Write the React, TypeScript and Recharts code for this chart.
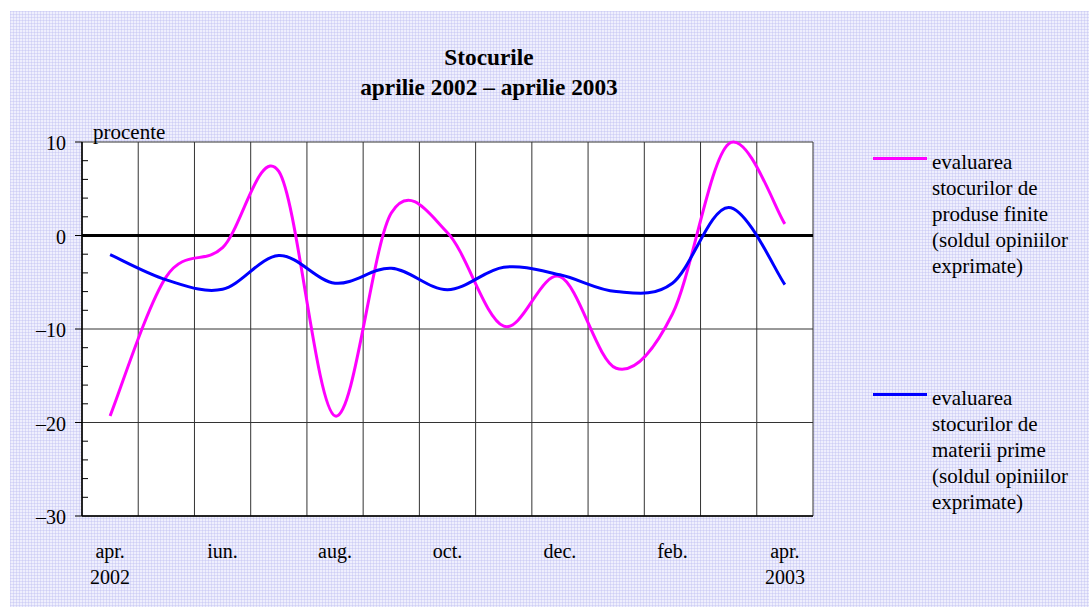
import React from 'react';
import { LineChart, Line, XAxis, YAxis, CartesianGrid, ReferenceLine, Legend } from 'recharts';

const FONT = "'Liberation Serif', 'Times New Roman', serif";

const MONTHS = ['apr.', 'mai', 'iun.', 'iul.', 'aug.', 'sep.', 'oct.', 'nov.', 'dec.', 'ian.', 'feb.', 'mar.', 'apr.'];
const YEARS = ['2002', '', '', '', '', '', '', '', '', '', '', '', '2003'];
const PRODUSE_FINITE = [-19.3, -4.4, -1.3, 6.85, -19.3, 2.4, 0.3, -9.7, -4.4, -14.2, -8.4, 9.8, 1.25];
const MATERII_PRIME = [-2.05, -4.75, -5.75, -2.15, -5.1, -3.5, -5.8, -3.4, -4.2, -6.0, -5.1, 3.0, -5.25];
const X_LABEL_INDEXES = [0, 2, 4, 6, 8, 10, 12];
const Y_TICKS = [-30, -28, -26, -24, -22, -20, -18, -16, -14, -12, -10, -8, -6, -4, -2, 0, 2, 4, 6, 8, 10];
const Y_MAJOR = [-30, -20, -10, 0, 10];
const SERIES_NAMES = [
  'evaluarea\nstocurilor de\nproduse finite\n(soldul opiniilor\nexprimate)',
  'evaluarea\nstocurilor de\nmaterii prime\n(soldul opiniilor\nexprimate)',
];
const TITLE_LINES = ['Stocurile', 'aprilie 2002 \u2013 aprilie 2003'];
const Y_UNIT = 'procente';

const data = MONTHS.map((m, i) => ({
  i,
  month: m,
  year: YEARS[i],
  produse: PRODUSE_FINITE[i],
  materii: MATERII_PRIME[i],
}));
const GRID_X = [-0.5, ...MONTHS.map((_, i) => i + 0.5)];

// Excel-like smoothed line (Catmull-Rom as cubic Bezier)
const excelSmooth = (context: any) => {
  let pts: [number, number][] = [];
  return {
    areaStart() {},
    areaEnd() {},
    lineStart() {
      pts = [];
    },
    point(x: number, y: number) {
      pts.push([+x, +y]);
    },
    lineEnd() {
      const n = pts.length;
      if (!n) return;
      context.moveTo(pts[0][0], pts[0][1]);
      for (let k = 0; k < n - 1; k++) {
        const p0 = pts[k - 1] || pts[k];
        const p1 = pts[k];
        const p2 = pts[k + 1];
        const p3 = pts[k + 2] || pts[k + 1];
        context.bezierCurveTo(
          p1[0] + (p2[0] - p0[0]) / 6,
          p1[1] + (p2[1] - p0[1]) / 6,
          p2[0] - (p3[0] - p1[0]) / 6,
          p2[1] - (p3[1] - p1[1]) / 6,
          p2[0],
          p2[1]
        );
      }
    },
  };
};

const fmtY = (v: number) => (v < 0 ? '\u2013' + Math.abs(v) : String(v));

const YTick = (props: any) => {
  const { x, y, payload } = props;
  const v = payload.value;
  if (Y_MAJOR.includes(v)) {
    return (
      <g>
        <line x1={x - 7} x2={x} y1={y} y2={y} stroke="#000" strokeWidth={1} />
        <text x={x - 16} y={y + 8} textAnchor="end" fontFamily={FONT} fontSize={20} fill="#000">
          {fmtY(v)}
        </text>
      </g>
    );
  }
  return <line x1={x} x2={x + 6} y1={y} y2={y} stroke="#000" strokeWidth={1} />;
};

const XTick = (props: any) => {
  const { x, y, payload } = props;
  const idx = payload.value;
  return (
    <g>
      <text x={x} y={y + 42} textAnchor="middle" fontFamily={FONT} fontSize={20} fill="#000">
        {MONTHS[idx]}
      </text>
      {YEARS[idx] ? (
        <text x={x} y={y + 68} textAnchor="middle" fontFamily={FONT} fontSize={20} fill="#000">
          {YEARS[idx]}
        </text>
      ) : null}
    </g>
  );
};

const renderUnit = (props: any) => {
  const vb = props.viewBox || { x: 0, y: 131, width: 72 };
  return (
    <text x={vb.x + vb.width + 11} y={vb.y - 3} fontFamily={FONT} fontSize={21} fill="#000">
      {Y_UNIT}
    </text>
  );
};

const renderLegend = (props: any) => {
  const entries = [...(props.payload || [])].sort(
    (a: any, b: any) => SERIES_NAMES.indexOf(a.value) - SERIES_NAMES.indexOf(b.value)
  );
  return (
    <div style={{ fontFamily: FONT, fontSize: 21, lineHeight: '26px', color: '#000' }}>
      {entries.map((entry: any, idx: number) => (
        <div
          key={idx}
          style={{ display: 'flex', alignItems: 'flex-start', marginTop: idx === 0 ? 0 : 106 }}
        >
          <div
            style={{
              width: 54,
              height: 0,
              borderTop: `3px solid ${entry.color}`,
              marginTop: 8,
              marginRight: 5,
              flex: 'none',
            }}
          />
          <div style={{ whiteSpace: 'pre-line' }}>{entry.value}</div>
        </div>
      ))}
    </div>
  );
};

export default function App() {
  return (
    <div
      style={{
        position: 'absolute',
        left: 10,
        top: 11,
        width: 1079,
        height: 596,
        backgroundColor: '#efeffd',
        backgroundImage:
          'linear-gradient(90deg, rgba(195,195,242,0.45) 1px, transparent 1px), linear-gradient(rgba(195,195,242,0.45) 1px, transparent 1px)',
        backgroundSize: '3px 3px',
        overflow: 'hidden',
      }}
    >
      <div
        style={{
          position: 'absolute',
          left: 0,
          top: 31,
          width: 958,
          textAlign: 'center',
          fontFamily: FONT,
          fontWeight: 'bold',
          fontSize: 23.3,
          lineHeight: '30px',
          color: '#000',
          zIndex: 2,
        }}
      >
        {TITLE_LINES.map((t, i) => (
          <div key={i}>{t}</div>
        ))}
      </div>
      <LineChart
        width={1079}
        height={596}
        data={data}
        margin={{ top: 131, right: 276, left: 0, bottom: 0 }}
      >
        <CartesianGrid
          verticalValues={GRID_X}
          horizontalValues={Y_MAJOR}
          stroke="#333"
          strokeWidth={1}
          fill="#ffffff"
          fillOpacity={1}
        />
        <XAxis
          type="number"
          dataKey="i"
          domain={[-0.5, 12.5]}
          ticks={X_LABEL_INDEXES}
          interval={0}
          tickLine={false}
          tickSize={0}
          tickMargin={0}
          height={91}
          axisLine={{ stroke: '#000', strokeWidth: 1.5 }}
          tick={<XTick />}
        />
        <YAxis
          type="number"
          domain={[-30, 10]}
          ticks={Y_TICKS}
          interval={0}
          tickLine={false}
          tickSize={0}
          tickMargin={0}
          width={72}
          axisLine={{ stroke: '#000', strokeWidth: 1.5 }}
          tick={<YTick />}
          label={renderUnit}
        />
        <ReferenceLine y={0} stroke="#000" strokeWidth={3} />
        <Legend
          layout="vertical"
          align="center"
          verticalAlign="middle"
          content={renderLegend}
          wrapperStyle={{ top: 138, left: 863, width: 216 }}
        />
        <Line
          type={excelSmooth as any}
          dataKey="produse"
          name={SERIES_NAMES[0]}
          stroke="#ff00ff"
          strokeWidth={3}
          dot={false}
          activeDot={false}
          isAnimationActive={false}
        />
        <Line
          type={excelSmooth as any}
          dataKey="materii"
          name={SERIES_NAMES[1]}
          stroke="#0000ff"
          strokeWidth={3}
          dot={false}
          activeDot={false}
          isAnimationActive={false}
        />
      </LineChart>
    </div>
  );
}
